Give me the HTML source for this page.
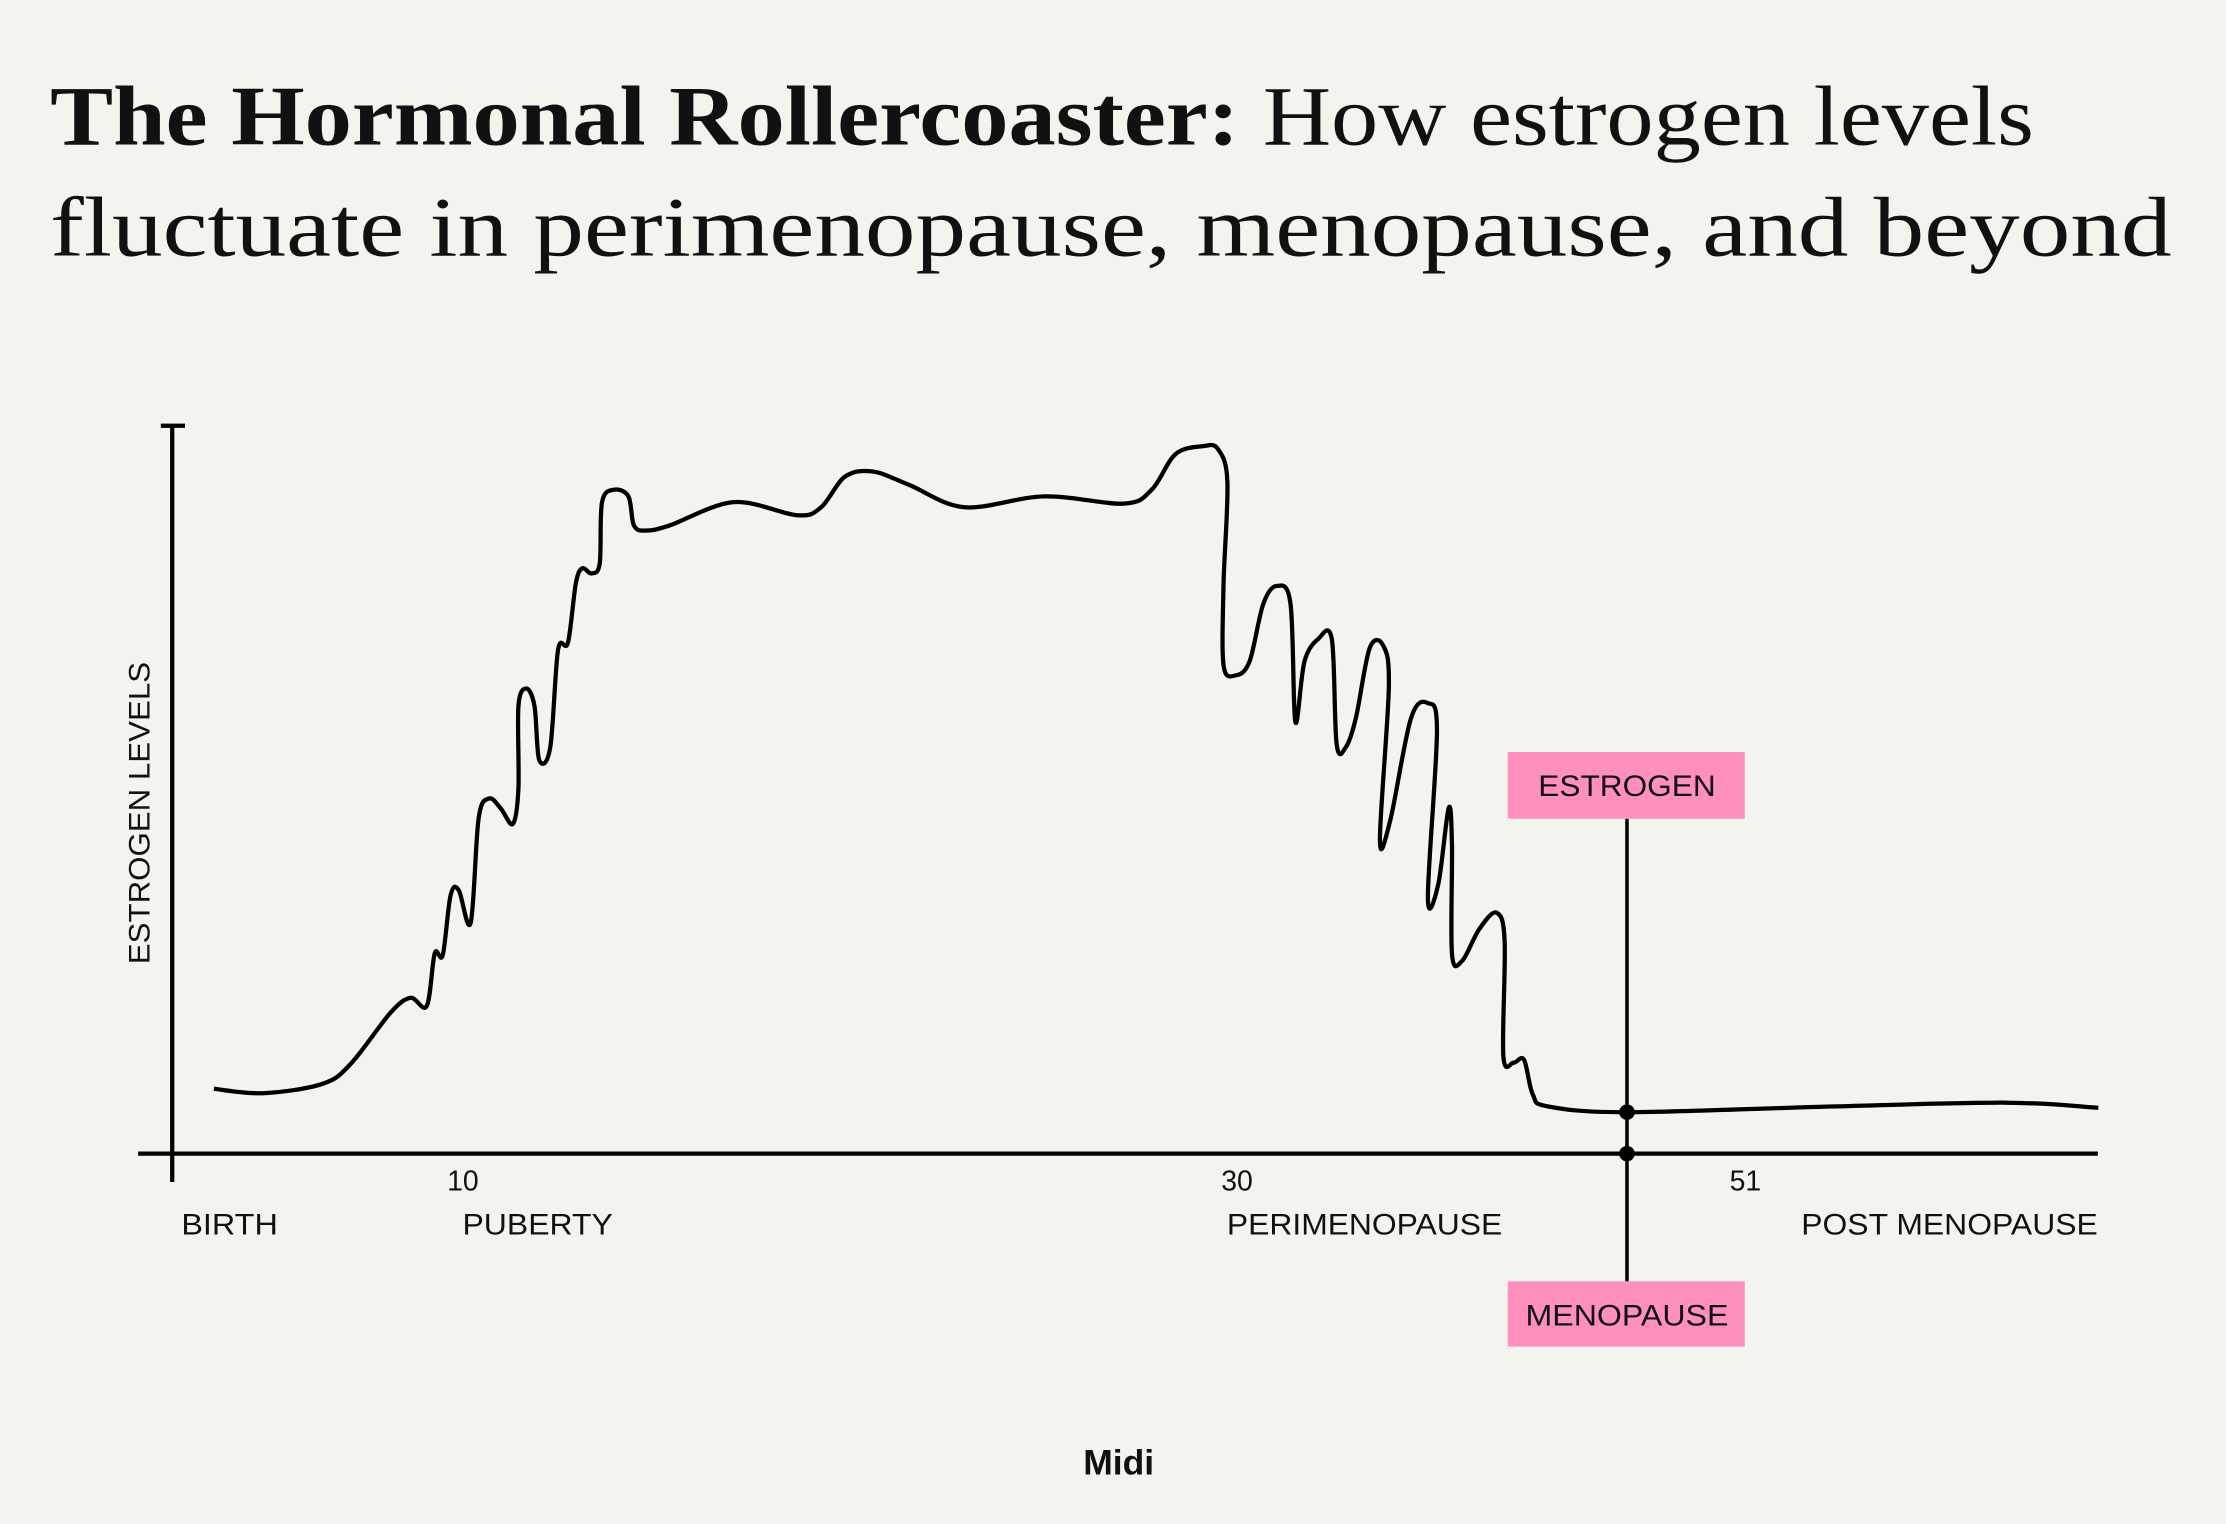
<!DOCTYPE html>
<html><head><meta charset="utf-8"><style>
html,body{margin:0;padding:0;background:#f4f4ee;}
svg{display:block;}
</style></head><body>
<svg width="2226" height="1524" viewBox="0 0 1568 1074" xmlns="http://www.w3.org/2000/svg">
<rect width="1568" height="1074" fill="#f4f4ee"/>
<text x="35" y="102" font-family="Liberation Serif, serif" font-size="60" fill="#111" textLength="1398" lengthAdjust="spacingAndGlyphs"><tspan font-weight="bold">The Hormonal Rollercoaster:</tspan><tspan font-weight="normal"> How estrogen levels</tspan></text>
<text x="35" y="180" font-family="Liberation Serif, serif" font-size="60" fill="#111" textLength="1495" lengthAdjust="spacingAndGlyphs">fluctuate in perimenopause, menopause, and beyond</text>

<line x1="121" y1="300" x2="121" y2="833" stroke="#000" stroke-width="3"/>
<line x1="113" y1="300" x2="130" y2="300" stroke="#000" stroke-width="3"/>
<line x1="97" y1="813" x2="1478" y2="813" stroke="#000" stroke-width="3"/>
<text transform="translate(105,573) rotate(-90)" text-anchor="middle" font-family="Liberation Sans, sans-serif" font-size="21" fill="#111" textLength="213" lengthAdjust="spacingAndGlyphs">ESTROGEN LEVELS</text>
<g id="labels"></g>
<path id="curve" fill="none" stroke="#000" stroke-width="3" stroke-linejoin="round" stroke-linecap="butt"/>
<g id="marker"></g>
<text x="788" y="1039" text-anchor="middle" font-family="Liberation Sans, sans-serif" font-weight="bold" font-size="25" fill="#111">Midi</text>
</svg>
<script>
const curveT = [2.17,4.72,7.81,9.29,11.35,12.38,13.22,13.63,14.05,14.46,14.88,15.50,15.91,16.45,17.07,17.69,17.98,17.98,18.39,18.81,19.06,19.63,20.04,20.55,20.96,21.29,21.78,22.20,22.32,22.94,23.69,23.98,24.60,25.84,29.15,32.46,33.70,34.94,36.39,38.25,41.15,45.28,49.42,50.87,52.11,53.56,54.30,54.80,54.60,54.60,55.22,55.95,56.66,57.38,58.08,58.33,58.80,59.51,60.22,60.47,60.94,61.47,62.18,62.89,63.18,62.72,63.26,64.33,65.21,65.68,65.21,65.75,66.29,66.46,66.46,66.99,67.89,68.78,69.20,69.13,69.67,70.20,70.66,71.44,75.55,86.42,95.33,100.03];
const curveLevel = [8.9,8.3,9.6,12.4,19.4,21.4,20.3,27.5,27.3,35.5,36.2,31.7,46.0,48.8,47.4,45.3,50.2,61.5,63.9,61.5,54.1,55.8,69.2,70.2,78.3,80.4,79.7,81.1,89.5,91.2,90.3,86.3,85.6,86.3,89.5,87.7,88.8,93.0,93.7,91.9,88.8,90.3,89.3,91.2,96.1,97.2,96.8,92.3,78.3,67.1,65.7,67.6,75.5,78.0,75.5,59.3,67.6,70.7,70.7,56.3,55.8,59.8,69.4,69.8,64.1,43.1,45.8,59.8,61.9,58.0,35.2,37.0,47.5,42.2,27.4,26.5,30.9,33.1,29.1,13.4,12.5,12.9,8.1,6.5,5.7,6.5,7.0,6.3];
const tickAges = ["10","30","51"];
const tickT = [14.5,54.7,81.1];
const phaseLabels = ["BIRTH","PUBERTY","PERIMENOPAUSE","POST MENOPAUSE"];
const phaseT = [0.4,15.0,54.7,100];
const phaseWidths = [68,106,194,209];
const menopauseT = 75.55;
const menopauseLevel = 5.7;

const NS = "http://www.w3.org/2000/svg";
function xScale(t){ return 121 + t * 13.57; }
function yScale(v){ return 813 - v * 5.13; }

const pts = curveT.map((t,i)=>[xScale(t), yScale(curveLevel[i])]);
let d = "M" + pts[0][0].toFixed(1) + "," + pts[0][1].toFixed(1);
for (let i=0;i<pts.length-1;i++){
  const p0 = pts[Math.max(0,i-1)], p1 = pts[i], p2 = pts[i+1], p3 = pts[Math.min(pts.length-1,i+2)];
  const c1x = p1[0] + (p2[0]-p0[0])/6, c1y = p1[1] + (p2[1]-p0[1])/6;
  const c2x = p2[0] - (p3[0]-p1[0])/6, c2y = p2[1] - (p3[1]-p1[1])/6;
  d += " C" + c1x.toFixed(1)+","+c1y.toFixed(1)+" "+c2x.toFixed(1)+","+c2y.toFixed(1)+" "+p2[0].toFixed(1)+","+p2[1].toFixed(1);
}
document.getElementById("curve").setAttribute("d", d);

function mk(tag, attrs, parent){
  const el = document.createElementNS(NS, tag);
  for (const k in attrs) el.setAttribute(k, attrs[k]);
  parent.appendChild(el);
  return el;
}
const lab = document.getElementById("labels");
tickAges.forEach((s,i)=>{
  const el = mk("text",{x:xScale(tickT[i])-3,y:839,"font-family":"Liberation Sans, sans-serif","font-size":"20",fill:"#111"},lab);
  
  
  el.textContent = s;
});
phaseLabels.forEach((s,i)=>{
  const last = i===phaseLabels.length-1;
  const el = mk("text",{x:xScale(phaseT[i])+(last?0:1),y:870,"text-anchor":last?"end":"start","font-family":"Liberation Sans, sans-serif","font-size":"21",fill:"#111",textLength:phaseWidths[i],lengthAdjust:"spacingAndGlyphs"},lab);
  
  
  el.textContent = s;
});

const mg = document.getElementById("marker");
const mx = xScale(menopauseT);
const vline = mk("line",{x1:mx,y1:577,x2:mx,y2:903,stroke:"#000","stroke-width":"2.5"},mg);


const dot1 = mk("circle",{cx:mx,cy:yScale(menopauseLevel),r:5.5,fill:"#000"},mg);


const dot2 = mk("circle",{cx:mx,cy:813,r:5.5,fill:"#000"},mg);


const box1 = mk("rect",{x:mx-84,y:530,width:167,height:47,fill:"#ff8fbe"},mg);


const t1 = mk("text",{x:mx,y:561,"text-anchor":"middle","font-family":"Liberation Sans, sans-serif","font-size":"21",fill:"#111",textLength:"125",lengthAdjust:"spacingAndGlyphs"},mg);


t1.textContent = "ESTROGEN";
const box2 = mk("rect",{x:mx-84,y:903,width:167,height:46,fill:"#ff8fbe"},mg);


const t2 = mk("text",{x:mx,y:934,"text-anchor":"middle","font-family":"Liberation Sans, sans-serif","font-size":"21",fill:"#111",textLength:"143",lengthAdjust:"spacingAndGlyphs"},mg);


t2.textContent = "MENOPAUSE";
</script>
</body></html>
